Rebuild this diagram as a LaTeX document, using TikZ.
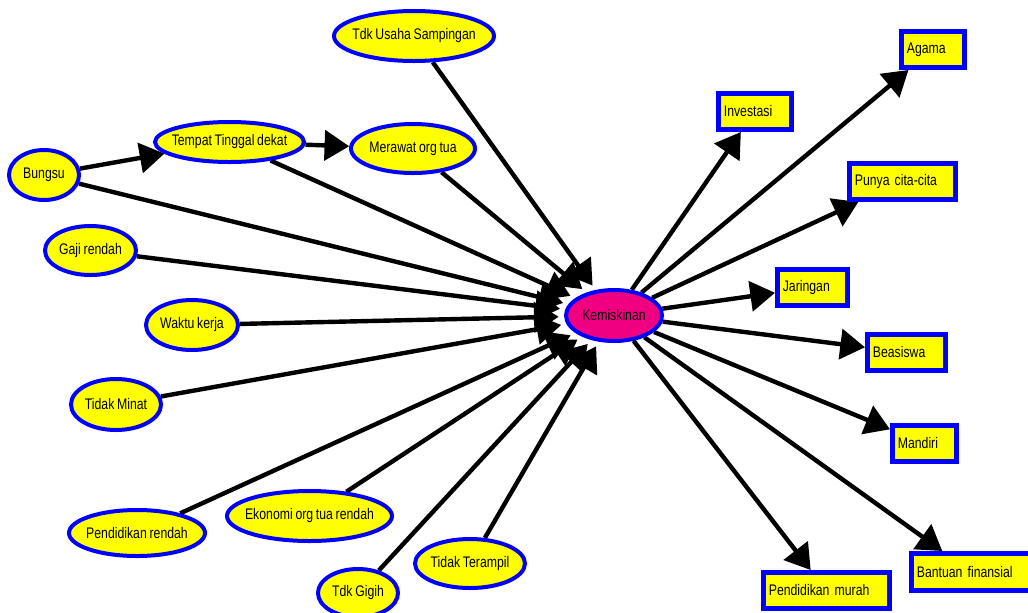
\documentclass[tikz,border=0pt]{standalone}
\usepackage{fontspec}
\setmainfont{Liberation Sans}[FakeStretch=0.8,WordSpace=0.8]
\usetikzlibrary{shapes.geometric,arrows.meta}
\definecolor{nodeblue}{RGB}{0,0,255}
\definecolor{nodeyellow}{RGB}{255,255,0}
\definecolor{kemis}{RGB}{240,0,128}
\newcommand\zwtext[1]{\makebox[0pt][c]{#1}}
\pgfdeclarelayer{bg}
\pgfsetlayers{bg,main}
\begin{document}
\begin{tikzpicture}[x=0.75pt,y=-0.75pt,
  every node/.style={font=\fontsize{11.5}{13}\selectfont},
  oval/.style={ellipse, draw=nodeblue, fill=nodeyellow, line width=3pt, inner sep=0pt},
  kem/.style={oval, fill=kemis},
  box/.style={rectangle, draw=nodeblue, fill=nodeyellow, line width=3.75pt, inner xsep=4pt, inner ysep=0pt, align=left, minimum height=27pt},
  link/.style={line width=3.3pt, -{Triangle[length=18.5pt,width=22.5pt]}},
  ]
\useasboundingbox (0,0) rectangle (1028,612);

% ellipse nodes
\node[oval, minimum width=120pt, minimum height=37.5pt] (usaha) at (414,36) {\zwtext{Tdk Usaha Sampingan}};
\node[oval, minimum width=93pt, minimum height=36.75pt] (merawat) at (413,148.5) {\zwtext{Merawat org tua}};
\node[oval, minimum width=111.75pt, minimum height=30pt] (tempat) at (229.5,142) {\zwtext{Tempat Tinggal dekat}};
\node[oval, minimum width=52.5pt, minimum height=37.5pt] (bungsu) at (44,175) {\zwtext{Bungsu}};
\node[oval, minimum width=68.25pt, minimum height=36.75pt] (gaji) at (90.5,250.5) {\zwtext{Gaji rendah}};
\node[oval, minimum width=69pt, minimum height=37.5pt] (waktu) at (192,325) {\zwtext{Waktu kerja}};
\node[oval, minimum width=67.5pt, minimum height=38.25pt] (minat) at (116,404.5) {\zwtext{Tidak Minat}};
\node[oval, minimum width=102pt, minimum height=34.5pt] (pendrendah) at (137,533) {\zwtext{Pendidikan rendah}};
\node[oval, minimum width=123.75pt, minimum height=37.5pt] (ekonomi) at (309.5,516) {\zwtext{Ekonomi org tua rendah}};
\node[oval, minimum width=60pt, minimum height=36pt] (gigih) at (358,593) {\zwtext{Tdk Gigih}};
\node[oval, minimum width=82.5pt, minimum height=36.75pt] (terampil) at (470,563.5) {\zwtext{Tidak Terampil}};
\node[kem, minimum width=72pt, minimum height=38.25pt] (kem) at (614,315.5) {\zwtext{Kemiskinan}};

% rectangle nodes
\node[box, text width=46.75pt] (investasi) at (755,111.5) {Investasi};
\node[box, text width=39.25pt] (agama) at (933,49.5) {Agama};
\node[box, text width=71.5pt] (cita) at (902.5,181.5) {Punya cita-cita};
\node[box, text width=44.5pt] (jaringan) at (812.5,287.5) {Jaringan};
\node[box, text width=50.5pt] (beasiswa) at (906.5,352.5) {Beasiswa};
\node[box, text width=40pt] (mandiri) at (924.5,443.5) {Mandiri};
\node[box, text width=86.5pt] (murah) at (826.5,590.5) {Pendidikan murah};
\node[box, text width=82pt, minimum height=27.75pt] (bantuan) at (971.5,572) {Bantuan finansial};

\begin{pgfonlayer}{bg}
\draw[link] (bungsu) -- (tempat);
\draw[link] (tempat) -- (merawat);
\foreach \s in {usaha,merawat,tempat,bungsu,gaji,waktu,minat,pendrendah,ekonomi,gigih,terampil}
  \draw[link, shorten >=4pt] (\s) -- (kem);
\foreach \t in {investasi,agama,cita,jaringan,beasiswa,mandiri,murah,bantuan}
  \draw[link] (kem) -- (\t);
\end{pgfonlayer}
\end{tikzpicture}
\end{document}
